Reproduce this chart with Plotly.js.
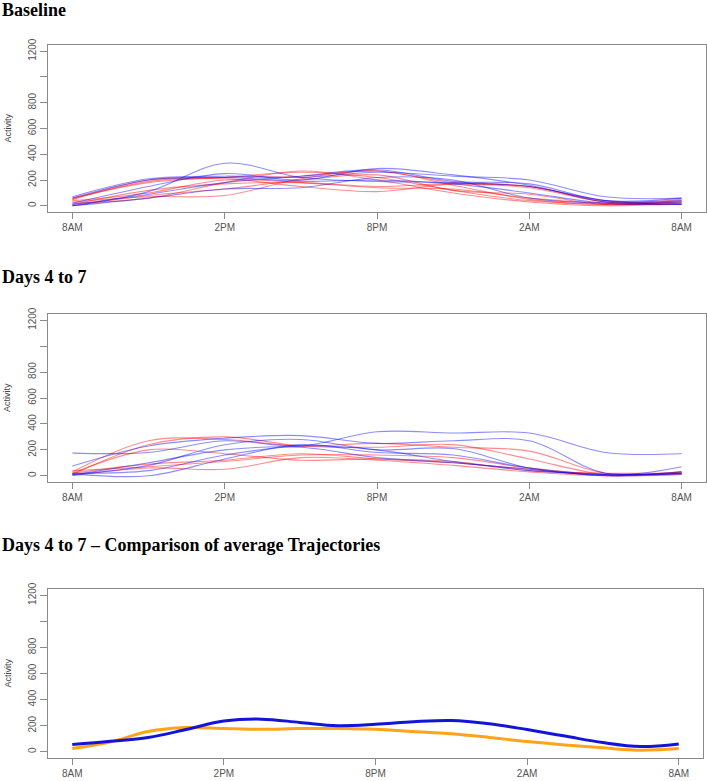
<!DOCTYPE html>
<html>
<head>
<meta charset="utf-8">
<script src="https://cdn.plot.ly/plotly-3.0.1.min.js"></script>
<style>html,body{margin:0;padding:0;background:#fff;}#chart{width:707px;height:781px;}</style>
</head>
<body>
<div id="chart"></div>
<script>
// ---- data ----
var hours = [0, 3, 6, 9, 12, 15, 18, 21, 24];
var hoursFine = [0, 1.5, 3, 4.5, 6, 7.5, 9, 10.5, 12, 13.5, 15, 16.5, 18, 19.5, 21, 22.5, 24];
var tickHours = [0, 6, 12, 18, 24];
var tickLabels = ["8AM", "2PM", "8PM", "2AM", "8AM"];
var yTickVals = [0, 200, 400, 600, 800, 1000, 1200];
var yTickText = ["0", "200", "400", "600", "800", "", "1200"];

var baselineBlue = [
  [0, 110, 330, 220, 190, 180, 150, 40, 10],
  [70, 210, 230, 220, 260, 230, 200, 70, 60],
  [20, 150, 250, 200, 290, 240, 160, 30, 30],
  [60, 200, 220, 190, 200, 170, 100, 20, 10],
  [0, 60, 130, 140, 220, 200, 60, 20, 40],
  [10, 90, 180, 230, 280, 190, 170, 40, 60]
];
var baselineRed = [
  [50, 190, 210, 150, 110, 170, 150, 30, 20],
  [30, 70, 80, 210, 270, 160, 50, 10, 20],
  [60, 180, 220, 260, 220, 120, 40, 10, 30],
  [10, 120, 170, 180, 150, 170, 140, 30, 50],
  [40, 100, 200, 180, 140, 130, 60, 20, 10],
  [20, 60, 180, 270, 200, 100, 30, 0, 20],
  [50, 200, 220, 230, 270, 180, 150, 40, 30],
  [0, 80, 130, 200, 240, 120, 90, 10, 40]
];
var days47Blue = [
  [175, 180, 270, 230, 340, 330, 330, 180, 170],
  [75, 230, 290, 310, 250, 270, 270, 20, 70],
  [15, 0, 130, 240, 180, 160, 60, 10, 20],
  [10, 80, 240, 280, 200, 210, 60, 5, 30],
  [20, 40, 160, 230, 200, 110, 40, 10, 10],
  [5, 100, 200, 220, 140, 100, 50, 0, 20]
];
var days47Red = [
  [30, 270, 280, 230, 250, 220, 190, 20, 20],
  [10, 240, 300, 230, 220, 240, 130, 10, 30],
  [20, 90, 120, 170, 130, 100, 50, 0, 10],
  [40, 70, 110, 160, 160, 140, 60, 10, 20],
  [0, 60, 50, 140, 120, 80, 30, 0, 30],
  [20, 200, 170, 120, 130, 110, 40, 20, 20]
];
var avgBlue = [55, 80, 110, 170, 235, 250, 225, 200, 210, 230, 240, 215, 170, 120, 70, 40, 60];
var avgOrange = [25, 75, 155, 185, 178, 172, 178, 178, 172, 155, 138, 110, 78, 52, 30, 12, 25];

var titles = ["Baseline", "Days 4 to 7", "Days 4 to 7 \u2013 Comparison of average Trajectories"];

// ---- build ----
var W = 707, H = 781;
function py(p) { return 1 - p / H; }
var traces = [];
function addLines(sets, color, ax) {
  sets.forEach(function (vals) {
    traces.push({x: hours, y: vals, type: "scatter", mode: "lines",
      line: {color: color, width: 1.1, shape: "spline", smoothing: 1},
      xaxis: "x" + ax, yaxis: "y" + ax, hoverinfo: "skip"});
  });
}
addLines(baselineRed, "rgba(255,0,0,0.45)", "");
addLines(baselineBlue, "rgba(0,0,255,0.45)", "");
addLines(days47Red, "rgba(255,0,0,0.45)", "2");
addLines(days47Blue, "rgba(0,0,255,0.45)", "2");
traces.push({x: hoursFine, y: avgOrange, type: "scatter", mode: "lines",
  line: {color: "#ffa31a", width: 3, shape: "spline", smoothing: 1}, xaxis: "x3", yaxis: "y3"});
traces.push({x: hoursFine, y: avgBlue, type: "scatter", mode: "lines",
  line: {color: "#1414d8", width: 3, shape: "spline", smoothing: 1}, xaxis: "x3", yaxis: "y3"});

var panels = [
  {top: 45, bottom: 212, left: 48, right: 706, title: 10},
  {top: 314, bottom: 482, left: 48, right: 706, title: 277},
  {top: 589, bottom: 758, left: 48, right: 703, title: 545}
];
var layout = {width: W, height: H, margin: {l: 0, r: 0, t: 0, b: 0},
  paper_bgcolor: "#fff", plot_bgcolor: "#fff", showlegend: false, annotations: []};
panels.forEach(function (p, i) {
  var s = i === 0 ? "" : String(i + 1);
  layout["xaxis" + s] = {domain: [p.left / W, p.right / W], range: [-0.96, 24.96],
    anchor: "y" + s, tickmode: "array", tickvals: tickHours, ticktext: tickLabels,
    showgrid: false, zeroline: false, showline: true, mirror: true, linecolor: "#8a8a8a", linewidth: 1,
    ticks: "outside", ticklen: 6, tickcolor: "#8a8a8a",
    tickfont: {family: "Liberation Sans, Arial, sans-serif", size: 10, color: "#555"}, fixedrange: true};
  layout["yaxis" + s] = {domain: [py(p.bottom), py(p.top)], range: [-48, 1248],
    anchor: "x" + s, tickmode: "array", tickvals: yTickVals, ticktext: yTickText, tickangle: -90,
    showgrid: false, zeroline: false, showline: true, mirror: true, linecolor: "#8a8a8a", linewidth: 1,
    ticks: "outside", ticklen: 7, tickcolor: "#8a8a8a",
    tickfont: {family: "Liberation Sans, Arial, sans-serif", size: 10, color: "#555"}, fixedrange: true};
  layout.annotations.push({text: "<b>" + titles[i] + "</b>", xref: "paper", yref: "paper",
    x: 0, y: py(p.title), xanchor: "left", yanchor: "middle", showarrow: false,
    font: {family: "Liberation Serif, Times New Roman, serif", size: 18, color: "#000"}});
  layout.annotations.push({text: "Activity", xref: "paper", yref: "paper", textangle: -90,
    x: 7 / W, y: py((p.top + p.bottom) / 2), xanchor: "center", yanchor: "middle", showarrow: false,
    font: {family: "Liberation Sans, Arial, sans-serif", size: 9, color: "#444"}});
});
Plotly.newPlot("chart", traces, layout, {staticPlot: true, displayModeBar: false});
</script>
</body>
</html>
